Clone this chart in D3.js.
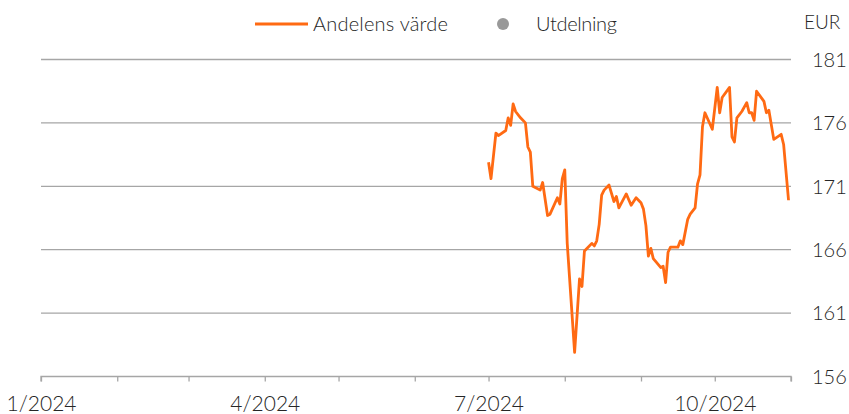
<!DOCTYPE html>
<html>
<head>
<meta charset="utf-8">
<script src="https://cdn.jsdelivr.net/npm/d3@7"></script>
<style>
  html, body { margin: 0; padding: 0; background: #fff; }
  svg text { font-family: Lato, "Liberation Sans", Arial, sans-serif; font-weight: 300; fill: #262626; }
</style>
</head>
<body>
<svg id="chart" width="849" height="414"></svg>
<script>
// fund NAV (EUR)
const dates = [
  "2024-07-01","2024-07-02","2024-07-04","2024-07-05","2024-07-08","2024-07-09","2024-07-10","2024-07-11",
  "2024-07-12","2024-07-14","2024-07-16","2024-07-17","2024-07-18","2024-07-19","2024-07-20","2024-07-22",
  "2024-07-23","2024-07-25","2024-07-26","2024-07-29","2024-07-30","2024-07-31",
  "2024-08-01","2024-08-02","2024-08-05","2024-08-07","2024-08-08","2024-08-09","2024-08-10","2024-08-12",
  "2024-08-13","2024-08-14","2024-08-15","2024-08-16","2024-08-17","2024-08-19","2024-08-21","2024-08-22",
  "2024-08-23","2024-08-26","2024-08-28","2024-08-30",
  "2024-09-01","2024-09-02","2024-09-03","2024-09-04","2024-09-05","2024-09-06","2024-09-09","2024-09-10",
  "2024-09-11","2024-09-12","2024-09-13","2024-09-16","2024-09-17","2024-09-18","2024-09-20","2024-09-21",
  "2024-09-23","2024-09-24","2024-09-25","2024-09-26","2024-09-27","2024-09-30",
  "2024-10-02","2024-10-03","2024-10-04","2024-10-07","2024-10-08","2024-10-09","2024-10-10","2024-10-12",
  "2024-10-14","2024-10-15","2024-10-16","2024-10-17","2024-10-18","2024-10-21","2024-10-22","2024-10-23",
  "2024-10-25","2024-10-28","2024-10-29","2024-10-31"
];
const navValues = [
  172.9,171.6,175.2,175.0,175.4,176.4,175.8,177.5,
  176.9,176.4,176.0,174.1,173.7,171.0,170.9,170.7,
  171.3,168.7,168.8,170.1,169.6,171.6,
  172.3,166.5,157.9,163.7,163.1,165.9,166.1,166.5,
  166.3,166.7,168.0,170.3,170.7,171.1,169.8,170.2,
  169.3,170.4,169.5,170.1,
  169.7,169.2,167.9,165.5,166.1,165.3,164.6,164.7,
  163.4,165.8,166.2,166.2,166.7,166.4,168.4,168.8,
  169.3,171.2,171.9,175.7,176.8,175.5,
  178.8,176.8,178.0,178.8,174.9,174.5,176.4,176.9,
  177.6,176.8,176.8,176.2,178.5,177.7,176.8,177.0,
  174.7,175.1,174.3,169.9
];
const yTicks = [156, 161, 166, 171, 176, 181];
const xDomain = ["2024-01-01", "2024-11-01"];
const labelMonths = [1, 4, 7, 10];
const seriesNames = ["Andelens värde", "Utdelning"];
const unitLabel = "EUR";

const parse = d3.timeParse("%Y-%m-%d");
const data = dates.map((d, i) => ({ date: parse(d), value: navValues[i] }));

const plotLeft = 41, plotRight = 791, plotTop = 59.5, plotBottom = 376.5;

const svg = d3.select("#chart");

const x = d3.scaleTime()
  .domain(xDomain.map(parse))
  .range([plotLeft, plotRight]);

const y = d3.scaleLinear()
  .domain([d3.min(yTicks), d3.max(yTicks)])
  .range([plotBottom, plotTop]);

// grid lines
svg.append("g")
  .selectAll("line")
  .data(yTicks.filter(t => t !== d3.min(yTicks)))
  .join("line")
    .attr("x1", plotLeft)
    .attr("x2", plotRight)
    .attr("y1", d => y(d))
    .attr("y2", d => y(d))
    .attr("stroke", "#a6a6a6")
    .attr("stroke-width", 1.3);

// y labels on the right
svg.append("g")
  .selectAll("text")
  .data(yTicks)
  .join("text")
    .attr("x", 812)
    .attr("y", d => y(d))
    .attr("dy", "0.36em")
    .attr("font-size", 20)
    .text(d => d);

svg.append("text")
  .attr("x", 804)
  .attr("y", 22)
  .attr("dy", "0.36em")
  .attr("font-size", 19)
  .text(unitLabel);

// x axis
const xAxis = d3.axisBottom(x)
  .ticks(d3.timeMonth.every(1))
  .tickSize(5)
  .tickFormat(d => labelMonths.includes(d.getMonth() + 1) ? `${d.getMonth() + 1}/${d.getFullYear()}` : "");

const gx = svg.append("g")
  .attr("transform", `translate(0,${plotBottom})`)
  .call(xAxis);

gx.select(".domain").attr("stroke", "#a6a6a6").attr("stroke-width", 1.3)
  .attr("d", `M${plotLeft},5V0H${plotRight}V5`);
gx.selectAll(".tick line").attr("stroke", "#a6a6a6").attr("stroke-width", 1.3);
gx.selectAll(".tick text")
  .attr("font-size", 21)
  .attr("font-family", null)
  .attr("fill", "#262626")
  .attr("y", 20);

// line
const line = d3.line()
  .x(d => x(d.date))
  .y(d => y(d.value));

svg.append("path")
  .datum(data)
  .attr("fill", "none")
  .attr("stroke", "#ff6a13")
  .attr("stroke-width", 2.8)
  .attr("stroke-linejoin", "round")
  .attr("d", line);

// legend
const legend = svg.append("g");
legend.append("line")
  .attr("x1", 255).attr("x2", 308)
  .attr("y1", 24).attr("y2", 24)
  .attr("stroke", "#ff6a13")
  .attr("stroke-width", 3);
legend.append("text")
  .attr("x", 313).attr("y", 24).attr("dy", "0.36em")
  .attr("font-size", 20)
  .attr("textLength", 135)
  .text(seriesNames[0]);
legend.append("circle")
  .attr("cx", 503).attr("cy", 24).attr("r", 6)
  .attr("fill", "#999999");
legend.append("text")
  .attr("x", 536).attr("y", 24).attr("dy", "0.36em")
  .attr("font-size", 20)
  .attr("textLength", 81)
  .text(seriesNames[1]);
</script>
</body>
</html>
